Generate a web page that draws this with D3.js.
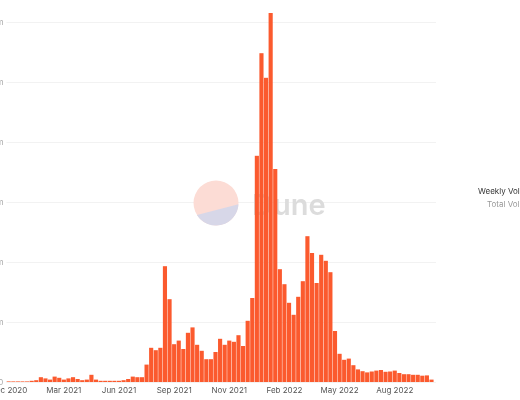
<!DOCTYPE html>
<html>
<head>
<meta charset="utf-8">
<title>Weekly Volume</title>
<script src="https://d3js.org/d3.v7.min.js"></script>
<style>
  html, body { margin: 0; background: #fff; overflow: hidden; }
  svg { display: block; filter: blur(0.4px); }
  text { font-family: "Inter", "Roboto", sans-serif; }
  .domain { display: none; }
</style>
</head>
<body>
<svg id="chart" width="520" height="400"></svg>
<script>
// weekly volume (one value per week)
const volume = [
  0.1, 0.1, 0.1, 0.1, 0.1, 0.2, 0.3, 0.8, 0.6, 0.4,
  0.9, 0.7, 0.4, 0.6, 0.8, 0.5, 0.3, 0.4, 1.2, 0.4,
  0.2, 0.2, 0.2, 0.2, 0.2, 0.3, 0.5, 0.9, 0.8, 0.8,
  2.9, 5.7, 5.3, 5.7, 19.3, 13.8, 6.3, 6.9, 5.5, 8.2,
  9.1, 6.2, 5.2, 3.8, 3.8, 5.0, 7.2, 6.2, 6.9, 6.7,
  7.8, 6.0, 10.2, 14.0, 37.7, 54.8, 50.7, 61.5, 35.5, 18.8,
  16.3, 13.2, 11.2, 14.2, 16.8, 24.3, 21.5, 16.5, 21.2, 20.2,
  18.3, 8.5, 4.7, 3.7, 3.9, 2.8, 2.1, 1.8, 1.6, 1.75,
  1.9, 2.0, 1.7, 1.75, 1.9, 1.5, 1.3, 1.3, 1.2, 1.2,
  1.05, 1.1, 0.4
];
const monthIndex = [0, 12, 24, 36, 48, 60, 72, 84];
const monthLabels = ["Dec 2020", "Mar 2021", "Jun 2021", "Sep 2021", "Nov 2021", "Feb 2022", "May 2022", "Aug 2022"];
const yTicks = [0, 10, 20, 30, 40, 50, 60];
const legendNames = ["Weekly Volume", "Total Volume"];

const svg = d3.select("#chart");
const plotLeft = 6.4, plotRight = 433.8, plotTop = 22, plotBottom = 382;

const x = d3.scaleBand()
  .domain(d3.range(volume.length))
  .range([plotLeft, plotRight])
  .paddingInner(0.1)
  .paddingOuter(0.05);

const y = d3.scaleLinear().domain([0, 60]).range([plotBottom, plotTop]);

// grid + clipped y labels
const yAxis = svg.append("g")
  .attr("transform", "translate(" + plotLeft + ",0)")
  .call(d3.axisLeft(y).tickValues(yTicks).tickSize(0).tickPadding(3)
    .tickFormat(d => d === 0 ? "0" : d + "m"));
yAxis.selectAll("text").style("font-size", "8px").style("fill", "#aaa");
yAxis.selectAll(".tick").append("line")
  .attr("x1", 0).attr("x2", 436 - plotLeft)
  .attr("stroke", "#f2f2f2").attr("stroke-width", 1);

// watermark
const logo = svg.append("g").attr("transform", "translate(216,203)");
const r = 22.5;
logo.append("circle").attr("r", r).attr("fill", "#fcdcd5");
const a1 = 148 * Math.PI / 180, a2 = 3 * Math.PI / 180;
logo.append("path")
  .attr("d", "M" + (r * Math.cos(a1)) + "," + (r * Math.sin(a1)) +
    " A" + r + "," + r + " 0 0 0 " + (r * Math.cos(a2)) + "," + (r * Math.sin(a2)) + " Z")
  .attr("fill", "#d7d7e8");
svg.append("text")
  .attr("x", 252).attr("y", 215)
  .attr("font-size", 29).attr("font-weight", 600)
  .attr("fill", "#dcdcdc")
  .text("Dune");

// bars
svg.append("g").selectAll("rect")
  .data(volume)
  .join("rect")
  .attr("x", (d, i) => x(i))
  .attr("y", d => y(d))
  .attr("width", x.bandwidth())
  .attr("height", d => plotBottom - y(d))
  .attr("fill", "#fb5a2e");

// x axis
const xAxis = svg.append("g")
  .attr("transform", "translate(0," + plotBottom + ")")
  .call(d3.axisBottom(x).tickValues(monthIndex).tickSize(0).tickPadding(5)
    .tickFormat((d, i) => monthLabels[i]));
xAxis.selectAll("text").style("font-size", "8px").style("fill", "#555");

// legend, runs off the right edge
svg.selectAll(".legend")
  .data(legendNames)
  .join("text")
  .attr("class", "legend")
  .attr("x", (d, i) => i === 0 ? 478 : 487)
  .attr("y", (d, i) => 194 + i * 13)
  .attr("font-size", 8)
  .attr("fill", (d, i) => i === 0 ? "#333" : "#999")
  .text(d => d);
</script>
</body>
</html>
